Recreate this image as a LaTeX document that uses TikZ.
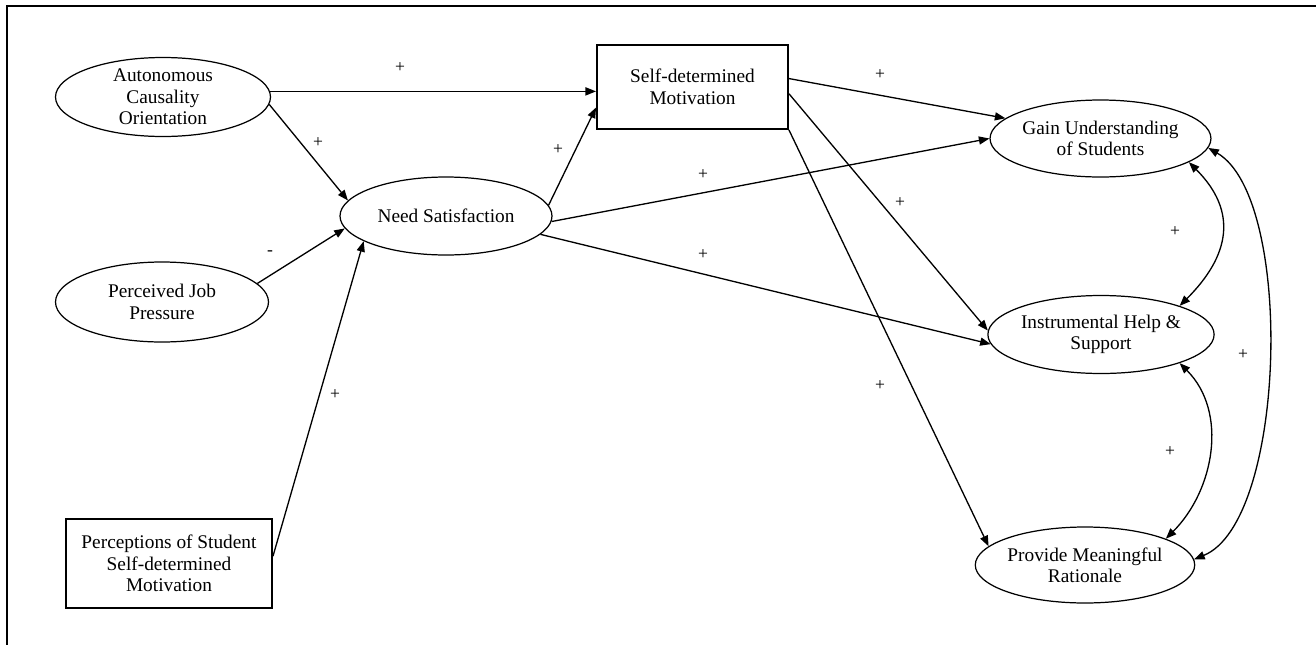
\documentclass[tikz,border=0pt]{standalone}
\usepackage{fontspec}
\setmainfont{Liberation Serif}
\usetikzlibrary{arrows.meta,positioning,shapes.geometric}

\begin{document}
\begin{tikzpicture}[font=\fontsize{11}{12.2}\selectfont,
    >={Triangle[length=6pt,width=4.6pt]},
    latent/.style={ellipse,draw,line width=0.7pt,inner xsep=0pt,inner ysep=-4pt,
                   align=center,minimum width=4.3cm,minimum height=1.56cm},
    obsbox/.style={rectangle,draw,line width=1.1pt,align=center,inner sep=2pt},
    link/.style={->,line width=0.75pt},
    corr/.style={<->,line width=0.75pt},
    sign/.style={font=\fontsize{10}{11}\selectfont,inner sep=1pt}]
  \useasboundingbox (0,0) rectangle (26.32,-12.9);
  % frame (top and left edges only)
  \draw[line width=0.6pt] (26.32,-0.12) -- (0.14,-0.12) -- (0.14,-12.9);

  % predictors
  \node[latent,minimum height=1.58cm] (auto) at (3.26,-1.94) {Autonomous\\Causality\\Orientation};
  \node[latent,minimum width=4.24cm] (need) at (8.92,-4.32) {Need Satisfaction};
  \node[latent,minimum width=4.26cm,minimum height=1.6cm] (job) at (3.24,-6.04) {Perceived Job\\Pressure};
  \node[obsbox,minimum width=4.12cm,minimum height=1.78cm] (percep) at (3.38,-11.27)
    {Perceptions of Student\\Self-determined\\Motivation};
  \node[obsbox,minimum width=3.82cm,minimum height=1.68cm] (sdm) at (13.85,-1.74)
    {Self-determined\\Motivation};

  % outcomes
  \node[latent,minimum height=1.54cm] (gain) at (22.01,-2.77) {Gain Understanding\\of Students};
  \node[latent] (instr) at (22.02,-6.69) {Instrumental Help \&\\Support};
  \node[latent,minimum height=1.52cm] (prov) at (21.7,-11.3) {Provide Meaningful\\Rationale};

  % paths
  \draw[link] (auto.3) -- (auto.3 -| sdm.west);
  \draw[link] (auto.-4) -- (need.171);
  \draw[link] (job.11) -- (need.187);
  \draw[link] (percep.4) -- (need.197);
  \draw[link] (need.6) -- (sdm.192);
  \draw[link] (need.-3) -- (gain.west);
  \draw[link] (need.-11) -- (instr.185);
  \draw[link] (sdm.5) -- (gain.168);
  \draw[link] (sdm.-4) -- (instr.178);
  \draw[link] (sdm.south east) -- (prov.169);

  % correlations
  \draw[corr] (gain.-15) to[out=-45,in=45,looseness=1.25] (instr.20);
  \draw[corr] (instr.-20) to[out=-45,in=45,looseness=1.0] (prov.18);
  \draw[corr] (gain.-5) to[out=-30,in=22,looseness=0.62] (prov.3);

  % signs
  \node[sign] (s1) at (8.0,-1.36) {+};
  \node[sign] (s2) at (6.36,-2.86) {+};
  \node[sign] (s3) at (5.4,-5.06) {-};
  \node[sign] (s4) at (6.7,-7.9) {+};
  \node[sign] (s5) at (11.16,-3.0) {+};
  \node[sign] (s6) at (14.06,-3.5) {+};
  \node[sign] (s7) at (14.06,-5.1) {+};
  \node[sign] (s8) at (17.6,-1.5) {+};
  \node[sign] (s9) at (18.0,-4.06) {+};
  \node[sign] (s10) at (17.6,-7.72) {+};
  \node[sign] (s11) at (23.5,-4.64) {+};
  \node[sign] (s12) at (23.4,-9.04) {+};
  \node[sign] (s13) at (24.86,-7.1) {+};
\end{tikzpicture}
\end{document}
